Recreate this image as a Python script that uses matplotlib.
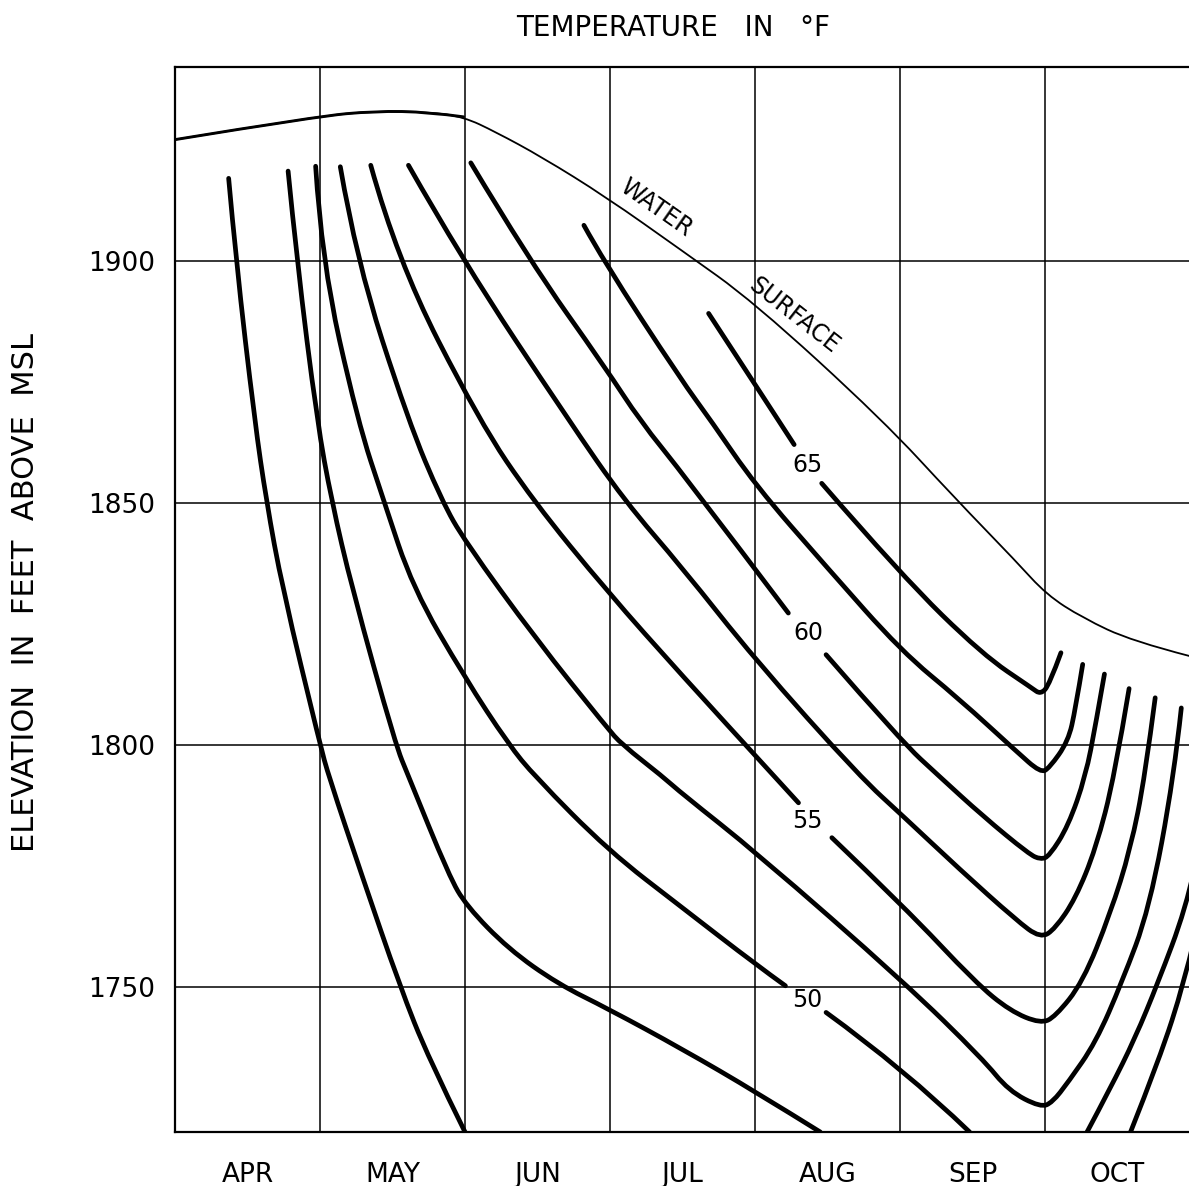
import numpy as np
import matplotlib
matplotlib.use("Agg")
import matplotlib.pyplot as plt
from matplotlib.path import Path
from matplotlib.patches import PathPatch

nan = np.nan

# ---- axis categories / ticks ----
months = ["APR", "MAY", "JUN", "JUL", "AUG", "SEP", "OCT"]
elev_ticks = [1750, 1800, 1850, 1900]

# ---- water surface (x in months from 1 Apr, y elevation ft) ----
surface_m = [0.0, 0.98, 1.38, 1.75, 1.99, 2.21, 2.53, 2.97, 3.49, 3.99, 4.88, 5.38, 5.80, 6.01, 6.26, 6.60, 7.0]
surface_e = [1925.0, 1929.8, 1930.9, 1930.7, 1929.7, 1926.6, 1921.4, 1913.2, 1902.2, 1891.5, 1867.1, 1850.9, 1837.9, 1831.0, 1826.2, 1821.4, 1818.3]

# ---- isotherms (deg F) ; nan = gap for label ----
t45_m = [0.37, 0.42, 0.55, 0.63, 0.74, 1.00, 1.06, 1.29, 1.55, 1.75, 2.00]
t45_e = [1917.0, 1900.2, 1866.8, 1850.4, 1832.4, 1800.1, 1793.5, 1772.9, 1750.2, 1735.1, 1720.0]

t47_m = [0.78, 0.84, 0.98, 1.08, 1.22, 1.52, 1.61, 1.89, 2.01, 2.30, 2.64, 2.99, 3.50, 4.01, 4.45]
t47_e = [1918.5, 1900.2, 1866.8, 1850.4, 1832.4, 1800.1, 1793.5, 1772.9, 1766.7, 1757.8, 1750.6, 1745.4, 1737.1, 1728.2, 1720.0]
t47r_m = [6.59, 6.79, 6.96, 7.03]
t47r_e = [1720.0, 1735.1, 1750.9, 1759.9]

t50_m = [0.97, 1.01, 1.26, 1.44, 1.64, 2.00, 2.30, 2.48, 2.99, 3.50, 4.01, 4.21, nan, 4.49, 5.03, 5.48]
t50_e = [1919.5, 1900.2, 1866.8, 1850.4, 1832.4, 1813.8, 1800.1, 1793.5, 1778.1, 1766.3, 1754.5, 1750.2, nan, 1744.7, 1733.0, 1720.0]
t50r_m = [6.29, 6.45, 6.62, 6.78, 6.97, 7.03]
t50r_e = [1720.0, 1729.0, 1739.3, 1750.9, 1766.1, 1774.3]

t52_m = [1.14, 1.25, 1.61, 1.84, 2.00, 2.49, 2.98, 3.08, 3.36, 3.50, 4.01, 5.03, 5.57, 5.75, 5.97, 6.05, 6.16, 6.35, 6.53, 6.72, 6.89, 6.94]
t52_e = [1919.4, 1900.2, 1866.8, 1850.4, 1842.0, 1821.8, 1803.5, 1800.1, 1793.5, 1789.8, 1777.7, 1750.9, 1735.1, 1728.5, 1725.1, 1726.1, 1730.3, 1738.5, 1750.9, 1766.1, 1793.5, 1807.6]

t55_m = [1.35, 1.53, 2.10, 2.47, 2.98, 3.50, 4.12, 4.30, nan, 4.53, 5.03, 5.52, 5.76, 5.97, 6.07, 6.26, 6.45, 6.59, 6.69, 6.76]
t55_e = [1919.7, 1900.2, 1866.8, 1850.4, 1831.7, 1814.2, 1793.9, 1788.0, nan, 1780.8, 1766.5, 1750.9, 1745.0, 1742.4, 1743.8, 1750.9, 1765.1, 1778.5, 1793.5, 1809.7]

t57_m = [1.61, 1.98, 2.72, 3.10, 3.50, 4.00, 4.72, 5.03, 5.41, 5.80, 5.97, 6.07, 6.21, 6.35, 6.48, 6.58]
t57_e = [1919.7, 1900.2, 1866.8, 1850.4, 1836.5, 1817.6, 1793.5, 1785.0, 1774.3, 1763.8, 1760.0, 1762.0, 1768.2, 1778.5, 1793.5, 1811.6]

t60_m = [2.04, 2.44, 2.97, 3.21, 3.50, 4.23, nan, 4.49, 5.01, 5.27, 5.57, 5.89, 5.97, 6.03, 6.16, 6.28, 6.35, 6.41]
t60_e = [1920.2, 1900.2, 1877.8, 1866.8, 1856.1, 1827.2, nan, 1818.6, 1800.7, 1793.5, 1785.3, 1777.4, 1776.3, 1777.0, 1783.2, 1793.5, 1804.3, 1814.6]

t62_m = [2.82, 2.95, 3.49, 3.70, 4.00, 4.50, 5.01, 5.41, 5.80, 5.97, 6.03, 6.16, 6.21, 6.26]
t62_e = [1907.3, 1900.2, 1875.4, 1866.8, 1853.7, 1836.5, 1819.3, 1809.4, 1798.7, 1794.2, 1795.2, 1800.7, 1807.4, 1816.6]

t65_m = [3.68, 4.16, 4.27, nan, 4.46, 5.01, 5.57, 5.91, 5.97, 6.03, 6.11]
t65_e = [1889.1, 1867.1, 1862.0, nan, 1854.0, 1835.0, 1818.6, 1811.7, 1810.4, 1812.4, 1819.0]

# contour labels
label_text = ["65", "60", "55", "50"]
label_m = [4.36, 4.37, 4.36, 4.36]
label_e = [1857.7, 1823.0, 1784.2, 1747.3]


def smooth_path(xs, ys):
    """Quadratic-Bezier path through the read points (split at nan gaps)."""
    segs, cur = [], []
    for x, y in zip(xs, ys):
        if np.isnan(x):
            if cur:
                segs.append(cur)
            cur = []
        else:
            cur.append((x, y))
    if cur:
        segs.append(cur)
    verts, codes = [], []
    for seg in segs:
        p = np.array(seg, dtype=float)
        verts.append(p[0]); codes.append(Path.MOVETO)
        if len(p) == 2:
            verts.append(p[1]); codes.append(Path.LINETO)
            continue
        n = len(p)
        for i in range(1, n - 1):
            end = (p[i] + p[i + 1]) / 2 if i < n - 2 else p[i + 1]
            verts += [p[i], end]
            codes += [Path.CURVE3, Path.CURVE3]
    return Path(verts, codes)


def draw(ax, xs, ys, lw):
    ax.add_patch(PathPatch(smooth_path(xs, ys), fill=False, edgecolor="black",
                           lw=lw, capstyle="round", joinstyle="round"))


# ---- figure ----
W, H = 1189, 1186
fig = plt.figure(figsize=(W / 100, H / 100), dpi=100)
fig.patch.set_facecolor("white")
x0, x1, y0, y1 = 175, 1190, 67, 1132
ax = fig.add_axes([x0 / W, 1 - y1 / H, (x1 - x0) / W, (y1 - y0) / H])
ax.set_xlim(0, 7)
ax.set_ylim(1720, 1940)

ax.set_xticks(range(1, 7))
ax.set_xticklabels([])
ax.set_xticks([i + 0.5 for i in range(7)], minor=True)
ax.set_xticklabels(months, minor=True, fontsize=19)
ax.set_yticks(elev_ticks)
ax.set_yticklabels([str(v) for v in elev_ticks], fontsize=19)
ax.tick_params(axis="both", which="both", length=0)
ax.tick_params(axis="x", which="minor", pad=21.5)
ax.tick_params(axis="y", which="major", pad=14.4)
ax.grid(True, which="major", color="black", lw=1.1)
ax.set_axisbelow(True)
for s in ["left", "top", "bottom"]:
    ax.spines[s].set_linewidth(1.6)
ax.spines["right"].set_visible(False)

# water surface
draw(ax, surface_m, surface_e, 1.3)
draw(ax, surface_m[:5], surface_e[:5], 2.1)

for mm, ee in [(t45_m, t45_e), (t47_m, t47_e), (t47r_m, t47r_e),
               (t50_m, t50_e), (t50r_m, t50r_e), (t52_m, t52_e),
               (t55_m, t55_e), (t57_m, t57_e), (t60_m, t60_e),
               (t62_m, t62_e), (t65_m, t65_e)]:
    draw(ax, mm, ee, 3.4)

for t, mm, ee in zip(label_text, label_m, label_e):
    ax.text(mm, ee, t, fontsize=17, ha="center", va="center")

ax.text(3.317, 1910.8, "WATER", fontsize=17, rotation=-35, ha="center", va="center",
        rotation_mode="anchor")
ax.text(4.272, 1888.6, "SURFACE", fontsize=17, rotation=-38, ha="center", va="center",
        rotation_mode="anchor")

fig.text(673 / W, 1 - 27.5 / H, "TEMPERATURE   IN   °F", ha="center", va="center", fontsize=20)
fig.text(26 / W, 1 - 592 / H, "ELEVATION  IN  FEET  ABOVE  MSL", rotation=90,
         ha="center", va="center", fontsize=22)

fig.savefig("out.png", dpi=100)
